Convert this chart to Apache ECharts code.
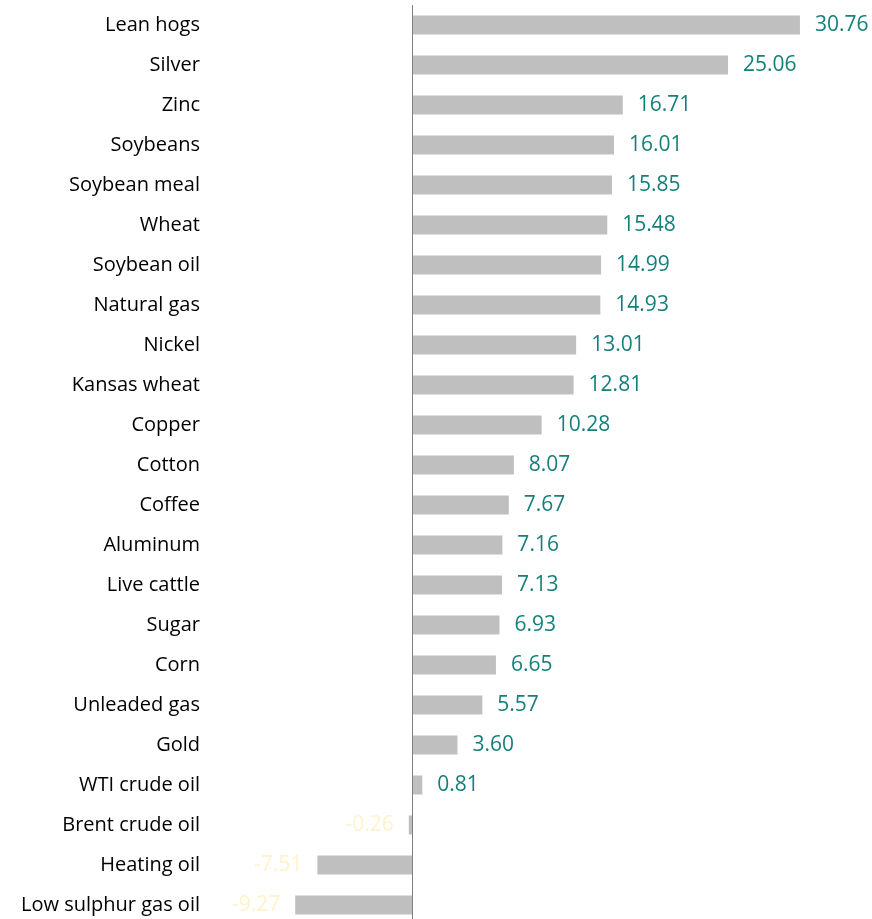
<!DOCTYPE html>
<html>
<head>
<meta charset="utf-8">
<script src="https://cdn.jsdelivr.net/npm/echarts@6/dist/echarts.min.js"></script>
<style>html,body{margin:0;padding:0;background:#fff;overflow:hidden;}#c{width:872px;height:925px;}</style>
</head>
<body>
<div id="c"></div>
<script>
var categories = ["Lean hogs","Silver","Zinc","Soybeans","Soybean meal","Wheat","Soybean oil","Natural gas","Nickel","Kansas wheat","Copper","Cotton","Coffee","Aluminum","Live cattle","Sugar","Corn","Unleaded gas","Gold","WTI crude oil","Brent crude oil","Heating oil","Low sulphur gas oil"];
var values = [30.76,25.06,16.71,16.01,15.85,15.48,14.99,14.93,13.01,12.81,10.28,8.07,7.67,7.16,7.13,6.93,6.65,5.57,3.60,0.81,-0.26,-7.51,-9.27];

var font = "'Open Sans', sans-serif";
var data = values.map(function(v){
  return {
    value: v,
    label: {
      show: true,
      position: v >= 0 ? 'right' : 'left',
      distance: 15,
      color: v >= 0 ? '#167f7a' : '#fff2cc',
      fontSize: 21,
      fontFamily: font,
      formatter: function(p){ return p.value.toFixed(2); }
    }
  };
});

var chart = echarts.init(document.getElementById('c'));
chart.setOption({
  animation: false,
  grid: { left: 286, right: 18.6, top: 5, bottom: 0, containLabel: false },
  xAxis: { type: 'value', min: -10, max: 35, show: false },
  yAxis: {
    type: 'category',
    data: categories,
    inverse: true,
    axisLine: { show: false, onZero: false },
    axisTick: { show: false },
    axisLabel: { color: '#000', fontSize: 20, fontFamily: font, margin: 86 },
    splitLine: { show: false }
  },
  series: [{
    type: 'bar',
    data: data,
    barWidth: 19,
    itemStyle: { color: '#bfbfbf' },
    markLine: {
      silent: true,
      symbol: 'none',
      label: { show: false },
      lineStyle: { color: '#7f7f7f', width: 1, type: 'solid' },
      data: [{ xAxis: 0 }]
    }
  }]
});
</script>
</body>
</html>
